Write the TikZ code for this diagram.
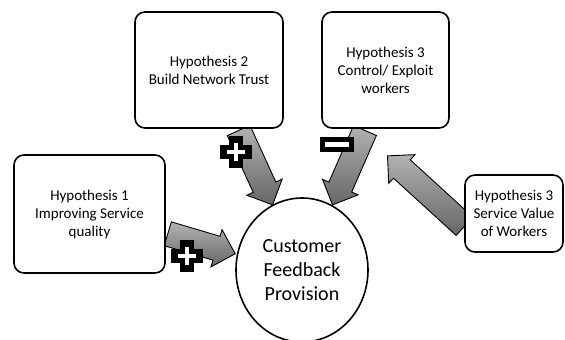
\documentclass[tikz,border=0pt]{standalone}
\usepackage{fontspec}
\setmainfont{Carlito}
\usetikzlibrary{shapes.geometric, shapes.arrows, calc, backgrounds}
\tikzset{
  hypbox/.style={draw, line width=1.6pt, rounded corners=10pt, fill=white,
    align=center, font=\fontsize{15}{18}\selectfont, inner sep=2pt},
  outcome/.style={draw, ellipse, line width=1.6pt, fill=white, align=center,
    minimum width=132pt, minimum height=144pt,
    font=\fontsize{20}{24}\selectfont},
  fat/.style={single arrow, draw, line width=0.9pt, inner sep=12pt,
    minimum width=0pt, outer sep=0pt,
    single arrow head extend=7pt, single arrow head indent=0pt,
    top color=black!30, bottom color=black!60},
  plussign/.pic={
    \draw[line width=14pt] (-16,0) -- (16,0) (0,-16) -- (0,16);
    \draw[white, line width=4pt] (-9,0) -- (9,0) (0,-9) -- (0,9);},
  minussign/.pic={
    \fill (-17,-7.5) rectangle (17,7.5);
    \fill[white] (-12,-2.5) rectangle (12,2.5);}
}
\newcommand\fatarrow[2]{%
  \path let \p1=($(#2)-(#1)$), \n1={atan2(\y1,\x1)}, \n2={veclen(\x1,\y1)} in
    node[fat, rotate=\n1, minimum height=\n2] at ($(#1)!0.5!(#2)$) {};}

\begin{document}
\begin{tikzpicture}[x=1pt, y=-1pt]
\useasboundingbox (0,0) rectangle (565,340);
% Hypotheses
    \node[hypbox, minimum width=151pt, minimum height=118pt] (h1) at (89.5,214)
      {Hypothesis 1\\Improving Service\\quality};
    \node[hypbox, minimum width=148pt, minimum height=116pt] (h2) at (209,70)
      {Hypothesis 2\\Build Network Trust};
    \node[hypbox, minimum width=127pt, minimum height=116pt] (h3) at (385.5,70)
      {Hypothesis 3\\Control/ Exploit\\workers};
    \node[hypbox, minimum width=98pt, minimum height=77pt] (h4) at (514,213.5)
      {Hypothesis 3\\Service Value\\of Workers};
% Outcome
    \node[outcome] (cfp) at (302,270) {Customer\\Feedback\\Provision};
% Arrow ends
    \coordinate (t1) at ([xshift=-4pt, yshift=-18pt]h1.east);
    \coordinate (e1) at ([xshift=-6pt, yshift=18pt]cfp.west);
    \coordinate (t2) at ([xshift=27pt, yshift=4pt]h2.south);
    \coordinate (e2) at ([xshift=-32pt, yshift=-2pt]cfp.north);
    \coordinate (t3) at ([xshift=-18pt, yshift=4pt]h3.south);
    \coordinate (e3) at ([xshift=33pt, yshift=-2pt]cfp.north);
    \coordinate (t4) at ([xshift=5pt, yshift=-17pt]h4.west);
    \coordinate (e4) at ([xshift=90pt, yshift=110pt]cfp.center);
% Effects
    \begin{pgfonlayer}{background}
    \fatarrow{t1}{e1}
    \fatarrow{t2}{e2}
    \fatarrow{t3}{e3}
    \fatarrow{t4}{e4}
    \end{pgfonlayer}
% Signs
    \pic at (236,152) {plussign};
    \pic at (187,256) {plussign};
    \pic at (337,144) {minussign};
\end{tikzpicture}
\end{document}
